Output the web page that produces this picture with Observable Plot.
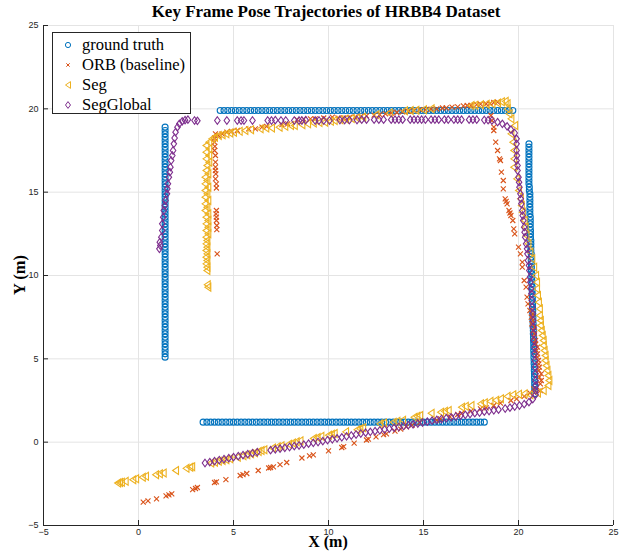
<!DOCTYPE html>
<html>
<head>
<meta charset="utf-8">
<script src="https://cdn.jsdelivr.net/npm/d3@7"></script>
<script src="https://cdn.jsdelivr.net/npm/@observablehq/plot@0.6"></script>
<style>
  html, body { margin: 0; padding: 0; background: #fff; }
  #fig { position: relative; width: 627px; height: 552px; background: #fff; overflow: hidden; }
  .ttl { position: absolute; font-family: "Liberation Serif", "Times New Roman", serif; font-weight: bold; color: #000; white-space: nowrap; }
  #legend { position: absolute; left: 52px; top: 32px; width: 137px; height: 80px; border: 1px solid #262626; background: #fff; }
  .lrow { position: absolute; left: 0; height: 20px; width: 137px; }
  .lrow svg { position: absolute; left: 9px; top: 4px; }
  .lrow span { position: absolute; left: 29px; top: 0; font-family: "Liberation Serif", "Times New Roman", serif; font-size: 16.5px; line-height: 20px; color: #000; white-space: nowrap; }
</style>
</head>
<body>
<div id="fig">
  <div id="plot"></div>
  <div class="ttl" id="title" style="left:0;width:652px;top:2px;text-align:center;font-size:17px;">Key Frame Pose Trajectories of HRBB4 Dataset</div>
  <div class="ttl" id="xlab" style="left:0;width:656px;top:534px;height:16px;line-height:16px;text-align:center;font-size:16px;">X (m)</div>
  <div class="ttl" id="ylab" style="left:-2px;top:265px;width:44px;text-align:center;font-size:16.5px;transform:rotate(-90deg);">Y (m)</div>
  <div id="legend"></div>
</div>
<script>
// ---------- axis settings ----------
const xDomain = [-5, 25];
const yDomain = [-5, 25];
const xTicks = [-5, 0, 5, 10, 15, 20, 25];
const yTicks = [-5, 0, 5, 10, 15, 20, 25];

const seriesNames = ["ground truth", "ORB (baseline)", "Seg", "SegGlobal"];
const seriesColors = ["#0072BD", "#D95319", "#EDB120", "#7E2F8E"];

// ---------- ground truth (blue circles) ----------
const gtLeftX = 1.4;
const gtLeftY = [5.1,5.3,5.5,5.7,5.9,6.1,6.3,6.5,6.7,6.9,7.1,7.3,7.5,7.7,7.9,8.1,8.3,8.5,8.7,8.9,9.1,9.3,9.5,9.7,9.9,10.1,10.3,10.5,10.7,10.9,11.1,11.3,11.5,11.7,11.9,12.1,12.3,12.5,12.7,12.9,13.1,13.3,13.5,13.7,13.9,14.1,14.3,14.5,14.7,14.9,15.1,15.3,15.5,15.7,15.9,16.1,16.3,16.5,16.7,16.9,17.1,17.3,17.5,17.7,17.9,18.1,18.3,18.5,18.7,18.9];
const gtTopY = 19.9;
const gtTopX = [4.3,4.5,4.7,4.9,5.1,5.3,5.5,5.7,5.9,6.1,6.3,6.5,6.7,6.9,7.1,7.3,7.5,7.7,7.9,8.1,8.3,8.5,8.7,8.9,9.1,9.3,9.5,9.7,9.9,10.1,10.3,10.5,10.7,10.9,11.1,11.3,11.5,11.7,11.9,12.1,12.3,12.5,12.7,12.9,13.1,13.3,13.5,13.7,13.9,14.1,14.3,14.5,14.7,14.9,15.1,15.3,15.5,15.7,15.9,16.1,16.3,16.5,16.7,16.9,17.1,17.3,17.5,17.7,17.9,18.1,18.3,18.5,18.7,18.9,19.1,19.3,19.5,19.7];
const gtRight = [[20.55,17.9],[20.55,17.7],[20.55,17.5],[20.55,17.3],[20.55,17.1],[20.55,16.9],[20.55,16.7],[20.55,16.5],[20.55,16.3],[20.55,16.1],[20.55,15.9],[20.55,15.7],[20.55,15.5],[20.57,15.3],[20.57,15.1],[20.6,14.9],[20.6,14.7],[20.6,14.5],[20.6,14.3],[20.6,14.1],[20.6,13.9],[20.6,13.7],[20.62,13.5],[20.62,13.3],[20.62,13.1],[20.62,12.9],[20.63,12.7],[20.63,12.5],[20.63,12.3],[20.65,12.1],[20.65,11.9],[20.65,11.7],[20.65,11.5],[20.67,11.3],[20.67,11.1],[20.67,10.9],[20.68,10.7],[20.68,10.5],[20.68,10.3],[20.7,10.1],[20.7,9.9],[20.7,9.7],[20.7,9.5],[20.72,9.3],[20.72,9.1],[20.72,8.9],[20.73,8.7],[20.73,8.5],[20.74,8.3],[20.74,8.1],[20.75,7.9],[20.75,7.7],[20.76,7.5],[20.76,7.3],[20.77,7.1],[20.77,6.9],[20.78,6.7],[20.78,6.5],[20.79,6.3],[20.79,6.1],[20.8,5.9],[20.8,5.7],[20.8,5.5],[20.81,5.3],[20.81,5.1],[20.82,4.9],[20.82,4.7],[20.83,4.5],[20.83,4.3],[20.84,4.1],[20.84,3.9],[20.85,3.7],[20.85,3.5],[20.85,3.3],[20.85,3.1],[20.85,2.9]];
const gtBottomY = 1.2;
const gtBottomX = [3.4,3.6,3.8,4.0,4.2,4.4,4.6,4.8,5.0,5.2,5.4,5.6,5.8,6.0,6.2,6.4,6.6,6.8,7.0,7.2,7.4,7.6,7.8,8.0,8.2,8.4,8.6,8.8,9.0,9.2,9.4,9.6,9.8,10.0,10.2,10.4,10.6,10.8,11.0,11.2,11.4,11.6,11.8,12.0,12.2,12.4,12.6,12.8,13.0,13.2,13.4,13.6,13.8,14.0,14.2,14.4,14.6,14.8,15.0,15.2,15.4,15.6,15.8,16.0,16.2,16.4,16.6,16.8,17.0,17.2,17.4,17.6,17.8,18.0,18.2];

// ---------- ORB baseline (red x) ----------
const orb = [[0.25,-3.6],[0.5,-3.52],[0.95,-3.4],[1.45,-3.22],[1.6,-3.16],[1.75,-3.1],[2.85,-2.85],[3.0,-2.78],[3.1,-2.72],[4.0,-2.42],[4.1,-2.38],[4.6,-2.25],[5.35,-2.0],[5.5,-1.95],[5.7,-1.88],[6.3,-1.7],[6.85,-1.55],[6.95,-1.52],[7.1,-1.48],[7.45,-1.35],[7.8,-1.22],[8.6,-0.95],[9.0,-0.82],[9.2,-0.76],[10.0,-0.52],[10.7,-0.32],[10.8,-0.27],[11.35,-0.06],[12.0,0.13],[12.1,0.18],[12.5,0.32],[12.9,0.45],[13.05,0.5],[13.5,0.66],[13.8,0.78],[14.1,0.92],[14.4,1.02],[14.8,1.17],[15.7,1.32],[15.9,1.4],[16.4,1.52],[16.8,1.66],[17.0,1.72],[17.5,1.86],[18.0,2.0],[18.3,2.06],[18.7,2.2],[19.05,2.34],[19.6,2.5],[19.9,2.6],[20.3,2.75],[20.6,2.95],[20.8,3.2],
  [21.15,3.1],[21.15,3.5],[21.2,3.7],[21.1,3.9],[21.2,4.1],[21.07,4.3],[21.1,4.5],[21.07,4.7],[21.05,4.9],[21.0,5.1],[21.0,5.3],[20.95,5.5],[21.0,5.7],[20.9,5.9],[20.9,6.1],[20.8,6.3],[20.85,6.5],[20.77,6.7],[20.85,6.9],[20.7,7.1],[20.75,7.3],[20.67,7.5],[20.75,7.7],[20.6,7.9],[20.5,8.3],[20.45,8.7],[20.4,9.3],[20.3,9.7],[20.2,10.5],[20.2,10.8],[20.1,11.3],[20.0,11.7],[19.8,12.5],[19.75,12.8],[19.7,13.3],[19.6,13.6],[19.55,13.75],[19.5,13.9],[19.4,14.3],[19.35,14.45],[19.3,14.6],[19.2,15.2],[19.2,15.7],[19.1,16.2],[19.05,16.9],[19.0,17.0],[18.9,17.5],[18.8,18.0],[18.7,18.7],[18.7,18.9],[18.6,19.3],[18.55,19.6],
  [18.9,20.4],[18.7,20.38],[18.5,20.32],[18.3,20.3],[18.0,20.28],[17.8,20.25],[17.5,20.2],[17.3,20.2],[17.1,20.18],[16.8,20.12],[16.5,20.1],[16.2,20.06],[16.0,20.05],[15.7,20.0],[15.4,19.98],[15.1,19.95],[14.8,19.95],[14.5,19.9],[14.2,19.85],[13.9,19.82],[13.6,19.78],[13.3,19.75],[13.0,19.7],[12.7,19.65],[12.4,19.62],[12.0,19.58],[11.7,19.55],[11.4,19.52],[11.1,19.48],[10.8,19.45],[10.5,19.45],[10.2,19.5],[9.75,19.45],[9.3,19.4],[9.05,19.4],[8.7,19.38],[8.35,19.35],[7.85,19.1],[7.55,19.05],[6.75,18.95],[6.5,18.9],[6.15,18.8],[5.8,18.8],[5.2,18.7],[4.9,18.65],[4.65,18.6],[4.4,18.5],[4.2,18.4],
  [4.05,18.5],[4.0,18.25],[4.0,18.0],[4.02,17.75],[4.0,17.5],[4.05,17.2],[4.05,16.8],[4.05,16.5],[4.05,16.3],[4.07,16.1],[4.05,15.8],[4.1,15.5],[4.1,15.25],[4.1,13.9],[4.08,13.7],[4.1,13.5],[4.1,13.3],[4.12,13.0],[4.12,12.75],[4.14,11.3]];

// ---------- Seg (yellow left triangles) ----------
const seg = [[-1.1,-2.45],[-1.0,-2.42],[-0.9,-2.4],[-0.7,-2.35],[-0.3,-2.25],[-0.15,-2.2],[0.2,-2.1],[0.37,-2.05],[0.9,-1.95],[1.1,-1.9],[1.3,-1.85],[1.95,-1.7],[2.5,-1.57],[2.7,-1.5],[2.8,-1.47],[3.8,-1.25],[4.0,-1.2],[4.2,-1.15],[4.4,-1.1],[4.6,-1.05],[4.8,-1.0],[5.2,-0.9],[5.5,-0.82],[5.7,-0.76],[5.9,-0.7],[6.1,-0.64],[6.3,-0.56],[6.45,-0.5],[6.6,-0.46],[7.05,-0.35],[7.3,-0.28],[7.5,-0.22],[7.9,-0.12],[8.1,-0.05],[8.3,0.02],[8.5,0.08],[9.2,0.22],[9.4,0.28],[9.6,0.35],[10.0,0.42],[10.15,0.47],[10.3,0.52],[10.9,0.62],[11.5,0.75],[11.65,0.8],[11.8,0.86],[12.7,1.1],[12.9,1.15],[13.4,1.2],[13.6,1.25],[13.9,1.32],[14.5,1.5],[14.65,1.55],[14.8,1.6],[15.4,1.74],[15.9,1.8],[16.1,1.85],[16.3,1.9],[17.0,2.1],[17.2,2.15],[17.5,2.2],[18.0,2.3],[18.2,2.36],[18.5,2.45],[18.8,2.52],[19.05,2.6],[19.4,2.75],[19.7,2.85],[20.0,2.88],[20.3,2.9],
  [20.6,2.85],[21.0,2.95],[21.3,3.1],[21.55,3.4],[21.6,3.7],[21.55,4.0],[21.5,4.3],[21.45,4.6],[21.4,4.9],[21.4,5.2],[21.35,5.5],[21.3,5.8],[21.3,6.1],[21.25,6.4],[21.2,6.7],[21.15,7.0],[21.15,7.3],[21.1,7.6],[21.1,8.0],[21.05,8.4],[21.0,8.8],[20.95,9.2],[20.95,9.6],[20.9,10.0],[20.8,10.5],[20.7,11.0],[20.6,11.4],[20.5,11.9],[20.4,12.4],[20.35,12.9],[20.3,13.3],[20.2,13.8],[20.15,14.2],[20.1,14.6],[20.0,15.1],[19.9,15.8],[19.75,16.5],[19.75,17.0],[19.75,17.5],[19.7,18.0],[19.6,18.5],
  [19.8,19.0],[19.6,19.4],[19.5,19.7],[19.4,20.0],[19.4,20.3],[19.3,20.45],[19.1,20.42],[18.9,20.35],[18.6,20.3],[18.3,20.28],[18.0,20.25],[17.7,20.22],[17.5,20.2],[15.4,20.0],[15.0,19.95],[14.6,19.92],[14.3,19.9],[14.0,19.88],[13.2,19.75],[12.5,19.65],[11.8,19.5],[11.5,19.45],[11.2,19.42],[10.9,19.38],[10.6,19.35],[10.3,19.3],[10.1,19.25],[9.8,19.2],[9.5,19.18],[9.2,19.15],[8.9,19.1],[8.6,19.05],[8.2,19.0],[8.0,19.0],[7.7,18.95],[7.4,18.9],[7.0,18.85],[6.7,18.85],[6.4,18.8],[5.9,18.75],[5.6,18.7],[5.3,18.65],[5.0,18.6],[4.8,18.55],[4.6,18.5],[4.4,18.45],[4.2,18.4],[4.0,18.3],[3.85,18.2],
  [3.7,18.0],[3.55,17.8],[3.7,17.6],[3.55,17.4],[3.7,17.2],[3.55,17.0],[3.7,16.8],[3.6,16.6],[3.55,16.3],[3.65,16.1],[3.5,15.9],[3.6,15.7],[3.5,15.5],[3.65,15.3],[3.5,15.1],[3.6,14.9],[3.5,14.7],[3.65,14.5],[3.5,14.3],[3.6,14.1],[3.5,13.9],[3.65,13.7],[3.55,13.5],[3.65,13.3],[3.55,13.1],[3.65,12.9],[3.55,12.7],[3.65,12.5],[3.55,12.3],[3.6,12.1],[3.55,11.9],[3.6,11.7],[3.55,11.5],[3.6,11.3],[3.55,11.1],[3.6,10.9],[3.55,10.7],[3.6,10.5],[3.6,10.3],[3.62,9.45],[3.65,9.3]];

// ---------- SegGlobal (purple diamonds) ----------
const segGlobal = [[1.1,11.6],[1.15,11.8],[1.12,12.0],[1.2,12.3],[1.25,12.7],[1.25,13.1],[1.3,13.5],[1.33,13.9],[1.38,14.2],[1.42,14.5],[1.5,14.9],[1.52,15.2],[1.55,15.5],[1.6,15.9],[1.65,16.2],[1.68,16.5],[1.72,16.9],[1.78,17.2],[1.82,17.5],[1.86,17.9],[1.9,18.25],[1.95,18.6],[2.05,18.9],[2.15,19.1],[2.3,19.25],[2.45,19.32],[2.6,19.35],[2.95,19.3],[3.1,19.28],
  [4.15,19.3],[4.65,19.3],[5.2,19.3],[5.4,19.3],[5.55,19.3],[6.0,19.3],[6.8,19.3],[7.0,19.3],[7.2,19.32],[7.5,19.3],[7.75,19.3],[8.2,19.3],[8.45,19.3],[8.6,19.3],[8.8,19.32],[9.3,19.3],[9.5,19.3],[9.75,19.3],[10.05,19.3],[10.6,19.33],[10.85,19.33],[11.1,19.33],[11.5,19.33],[11.75,19.35],[12.0,19.35],[12.4,19.35],[12.65,19.35],[12.9,19.35],[13.3,19.35],[13.5,19.35],[13.7,19.35],[13.9,19.35],[14.3,19.35],[14.5,19.35],[14.7,19.35],[14.9,19.35],[15.1,19.35],[15.4,19.35],[15.6,19.35],[15.8,19.35],[16.1,19.35],[16.3,19.35],[16.6,19.35],[16.8,19.35],[17.0,19.35],[17.4,19.35],[17.6,19.35],[17.8,19.35],[18.2,19.33],[18.4,19.32],[18.6,19.3],
  [18.9,19.2],[19.15,19.1],[19.4,18.95],[19.6,18.75],[19.8,18.55],[19.9,18.2],[19.9,17.9],
  [19.9,17.5],[19.92,17.2],[19.9,16.9],[19.95,16.6],[19.95,16.3],[20.0,15.9],[20.03,15.6],[20.05,15.3],[20.1,14.9],[20.12,14.6],[20.15,14.3],[20.2,13.9],[20.22,13.6],[20.25,13.3],[20.3,12.9],[20.32,12.6],[20.35,12.3],[20.4,11.9],[20.45,11.6],[20.47,11.3],[20.5,10.9],[20.55,10.6],[20.57,10.3],[20.6,9.9],[20.62,9.6],[20.65,9.2],[20.68,8.9],[20.7,8.5],[20.72,8.1],[20.75,7.7],[20.77,7.3],[20.78,6.9],[20.8,6.5],[20.82,6.1],[20.84,5.7],[20.85,5.3],[20.87,4.9],[20.88,4.5],[20.9,4.1],[20.9,3.7],[20.92,3.4],[20.9,3.1],[20.9,2.85],
  [20.75,2.58],[20.55,2.4],[20.3,2.28],[20.05,2.2],[19.8,2.14],[19.55,2.07],[19.3,2.02],[18.95,1.95],[18.7,1.91],[18.45,1.87],[18.2,1.83],[17.95,1.78],[17.7,1.74],[17.45,1.69],[17.2,1.64],[16.95,1.59],[16.7,1.54],[16.45,1.49],[16.2,1.44],[15.95,1.39],[15.7,1.34],[15.45,1.29],[15.2,1.23],[14.95,1.18],[14.7,1.12],[14.45,1.07],[14.2,1.02],[13.95,0.97],[13.7,0.91],[13.45,0.86],[13.2,0.81],[12.95,0.76],[12.7,0.71],[12.45,0.66],[12.2,0.62],[11.95,0.57],[11.7,0.52],[11.45,0.46],[11.2,0.4],[10.95,0.35],[10.7,0.29],[10.45,0.23],[10.2,0.17],[9.95,0.12],[9.7,0.06],[9.45,0.01],[9.2,-0.04],[8.95,-0.09],[8.7,-0.15],[8.45,-0.2],[8.2,-0.24],[7.95,-0.29],[7.7,-0.34],[7.45,-0.39],[7.2,-0.43],[6.95,-0.48],[6.25,-0.6],[6.0,-0.66],[5.75,-0.72],[5.5,-0.78],[5.25,-0.84],[5.0,-0.9],[4.75,-0.96],[4.5,-1.02],[4.25,-1.08],[4.0,-1.14],[3.75,-1.2],[3.5,-1.25]];

// ---------- build tables ----------
const groundTruth = [
  ...gtLeftY.map(y => [gtLeftX, y]),
  ...gtTopX.map(x => [x, gtTopY]),
  ...gtRight,
  ...gtBottomX.map(x => [x, gtBottomY])
];

// custom symbols (MATLAB-like markers)
const symbolLeftTriangle = {
  draw(context, size) {
    const s = Math.sqrt(size);
    const h = s * 0.86, w = s * 0.64;
    context.moveTo(-w, 0);
    context.lineTo(w, -h);
    context.lineTo(w, h);
    context.closePath();
  }
};
const symbolMatDiamond = {
  draw(context, size) {
    const s = Math.sqrt(size);
    const h = s * 0.75, w = h * 0.74;
    context.moveTo(0, -h);
    context.lineTo(w, 0);
    context.lineTo(0, h);
    context.lineTo(-w, 0);
    context.closePath();
  }
};

const axisColor = "#262626";
const gridColor = "#e4e4e4";

const chart = Plot.plot({
  width: 627,
  height: 552,
  marginTop: 25,
  marginBottom: 27,
  marginLeft: 43,
  marginRight: 14,
  style: { fontFamily: "'Liberation Sans', Arial, sans-serif", fontSize: "9px", color: axisColor, background: "#fff" },
  x: { domain: xDomain, ticks: xTicks, label: null },
  y: { domain: yDomain, ticks: yTicks, label: null },
  marks: [
    Plot.gridX(xTicks, { stroke: gridColor, strokeOpacity: 1 }),
    Plot.gridY(yTicks, { stroke: gridColor, strokeOpacity: 1 }),
    Plot.ruleX([xDomain[0]], { stroke: axisColor, strokeWidth: 1 }),
    Plot.ruleY([yDomain[0]], { stroke: axisColor, strokeWidth: 1 }),
    Plot.axisX(xTicks, { tickSize: -5, tickPadding: 8, label: null, stroke: axisColor, fill: axisColor, fontSize: 9 }),
    Plot.axisY(yTicks, { tickSize: -5, tickPadding: 10, label: null, stroke: axisColor, fill: axisColor, fontSize: 9 }),
    Plot.dot(groundTruth, { x: d => d[0], y: d => d[1], symbol: "circle", r: 3.0, stroke: seriesColors[0], fill: "none", strokeWidth: 1.1 }),
    Plot.dot(orb, { x: d => d[0], y: d => d[1], symbol: "times", r: 2.4, stroke: seriesColors[1], fill: "none", strokeWidth: 1.1 }),
    Plot.dot(seg, { x: d => d[0], y: d => d[1], symbol: symbolLeftTriangle, r: 2.6, stroke: seriesColors[2], fill: "none", strokeWidth: 1.1 }),
    Plot.dot(segGlobal, { x: d => d[0], y: d => d[1], symbol: symbolMatDiamond, r: 2.8, stroke: seriesColors[3], fill: "none", strokeWidth: 1.1 })
  ]
});
document.getElementById("plot").appendChild(chart);

// ---------- legend ----------
const legendSymbols = [
  '<circle cx="6" cy="6" r="2.6" fill="none" stroke="COLOR" stroke-width="1"/>',
  '<path d="M4.3,4.3L7.7,7.7M7.7,4.3L4.3,7.7" fill="none" stroke="COLOR" stroke-width="1"/>',
  '<path d="M3.5,6L8.5,2.6L8.5,9.4Z" fill="none" stroke="COLOR" stroke-width="1"/>',
  '<path d="M6,2.6L8.5,6L6,9.4L3.5,6Z" fill="none" stroke="COLOR" stroke-width="1"/>'
];
const legend = document.getElementById("legend");
seriesNames.forEach((name, i) => {
  const row = document.createElement("div");
  row.className = "lrow";
  row.style.top = (2 + i * 20) + "px";
  row.innerHTML = '<svg width="12" height="12">' + legendSymbols[i].replace("COLOR", seriesColors[i]) + '</svg><span>' + name + '</span>';
  legend.appendChild(row);
});
</script>
</body>
</html>
